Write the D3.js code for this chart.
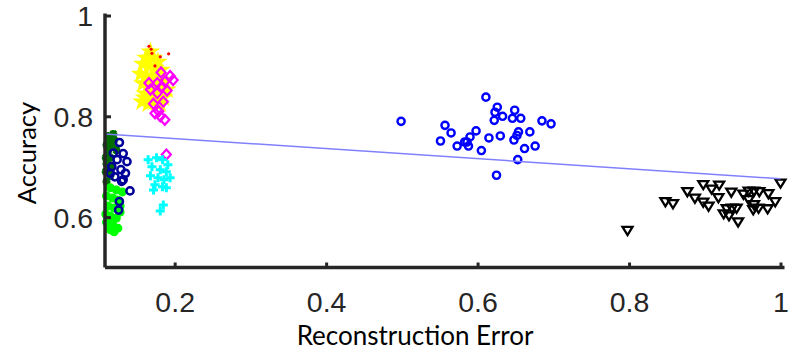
<!DOCTYPE html>
<html><head><meta charset="utf-8">
<script src="https://cdnjs.cloudflare.com/ajax/libs/d3/7.8.5/d3.min.js"></script>
<style>body{margin:0;background:#fff}</style>
</head><body>
<svg id="chart" width="807" height="354"></svg>
<script>
const xTicks = [0.2, 0.4, 0.6, 0.8, 1];
const yTicks = [0.6, 0.8, 1];
const xDomain = [0.108, 1.0];
const yDomain = [0.5, 1.0];
const xTitle = "Reconstruction Error";
const yTitle = "Accuracy";

const darkGreen = [[0.112,0.761],[0.119,0.765],[0.115,0.753],[0.110,0.743],[0.117,0.741],[0.112,0.730],[0.109,0.718],[0.115,0.718],[0.110,0.706],[0.117,0.702],[0.109,0.690],[0.115,0.682],[0.110,0.670],[0.120,0.753],[0.123,0.733],[0.113,0.694],[0.111,0.712]];
const lime = [[0.115,0.658],[0.123,0.654],[0.131,0.650],[0.110,0.642],[0.118,0.638],[0.125,0.634],[0.112,0.622],[0.120,0.618],[0.128,0.622],[0.109,0.606],[0.115,0.602],[0.123,0.598],[0.110,0.590],[0.118,0.586],[0.125,0.578],[0.115,0.575],[0.120,0.571],[0.128,0.610]];
const navy = [[0.127,0.748],[0.119,0.727],[0.132,0.726],[0.124,0.714],[0.137,0.710],[0.117,0.700],[0.129,0.694],[0.135,0.687],[0.121,0.680],[0.130,0.671],[0.141,0.652],[0.127,0.631],[0.126,0.614],[0.132,0.674],[0.115,0.687]];
const yellow = [[0.168,0.928],[0.162,0.916],[0.172,0.916],[0.178,0.908],[0.158,0.904],[0.166,0.900],[0.174,0.896],[0.182,0.892],[0.155,0.884],[0.162,0.880],[0.170,0.880],[0.178,0.876],[0.186,0.872],[0.158,0.865],[0.166,0.861],[0.174,0.861],[0.182,0.857],[0.190,0.853],[0.161,0.845],[0.169,0.841],[0.177,0.841],[0.185,0.837],[0.157,0.829],[0.165,0.825],[0.173,0.829],[0.181,0.825],[0.160,0.837]];
const red = [[0.166,0.939],[0.169,0.933],[0.170,0.925],[0.192,0.924],[0.181,0.918],[0.183,0.872],[0.174,0.900]];
const magenta = [[0.182,0.887],[0.194,0.880],[0.198,0.872],[0.187,0.869],[0.177,0.866],[0.166,0.866],[0.183,0.859],[0.190,0.851],[0.168,0.853],[0.177,0.846],[0.185,0.829],[0.172,0.825],[0.179,0.810],[0.187,0.793],[0.181,0.800],[0.174,0.806],[0.189,0.724]];
const cyan = [[0.165,0.714],[0.176,0.718],[0.184,0.714],[0.191,0.704],[0.170,0.700],[0.181,0.694],[0.189,0.690],[0.168,0.682],[0.178,0.678],[0.186,0.674],[0.194,0.678],[0.174,0.664],[0.184,0.660],[0.172,0.654],[0.189,0.658],[0.185,0.624],[0.181,0.612]];
const blue = [[0.611,0.838],[0.626,0.818],[0.623,0.808],[0.649,0.812],[0.633,0.800],[0.646,0.796],[0.657,0.796],[0.622,0.792],[0.499,0.790],[0.685,0.791],[0.697,0.785],[0.557,0.782],[0.565,0.767],[0.598,0.771],[0.669,0.769],[0.654,0.769],[0.590,0.759],[0.630,0.761],[0.615,0.757],[0.652,0.762],[0.648,0.753],[0.551,0.751],[0.583,0.749],[0.573,0.741],[0.588,0.741],[0.662,0.736],[0.676,0.741],[0.605,0.732],[0.653,0.714],[0.625,0.683],[0.586,0.749]];
const black = [[0.898,0.664],[0.909,0.655],[0.919,0.663],[0.877,0.650],[0.887,0.637],[0.898,0.629],[0.905,0.621],[0.918,0.638],[0.935,0.649],[0.951,0.645],[0.958,0.651],[0.965,0.651],[0.972,0.650],[0.984,0.646],[0.958,0.634],[0.993,0.630],[1.000,0.667],[0.848,0.630],[0.858,0.626],[0.929,0.616],[0.936,0.617],[0.942,0.617],[0.925,0.606],[0.932,0.602],[0.944,0.590],[0.964,0.614],[0.971,0.617],[0.983,0.616],[0.798,0.573],[0.965,0.624]];
const fitLine = [[0.108,0.765],[1.0,0.676]];

const svg = d3.select("#chart");
const x = d3.scaleLinear().domain(xDomain).range([105, 780.5]);
const y = d3.scaleLinear().domain(yDomain).range([267.5, 15.5]);
const axisColor = "#262626";
const tickFont = "'Liberation Sans', Arial, sans-serif";
const titleFont = "Lato, 'Open Sans', sans-serif";

const g = svg.append("g");

function drawGroup(data, pathStr, style) {
  const sel = g.append("g").selectAll("path").data(data).join("path")
    .attr("d", pathStr)
    .attr("transform", d => `translate(${x(d[0])},${y(d[1])})`);
  for (const k in style) sel.attr(k, style[k]);
}
const circ = r => d3.symbol(d3.symbolCircle, Math.PI*r*r)();
const star = d3.symbol(d3.symbolStar, 120)();
const asterisk = "M-4,0H4M0,-4V4M-3,-3L3,3M-3,3L3,-3";
const plus = "M-4.5,0H4.5M0,-4.5V4.5";
const diamond = "M0,-5L4.5,0L0,5L-4.5,0Z";
const triDown = "M-5,-3.8L5,-3.8L0,4.3Z";

drawGroup(darkGreen, asterisk, {stroke:"#006e00","stroke-width":2.5,fill:"none"});
drawGroup(lime, circ(4.5), {fill:"#00ff00"});
drawGroup(navy, circ(3.6), {stroke:"#000099","stroke-width":2.5,fill:"none"});
drawGroup(yellow, star, {fill:"#ffff00"});
drawGroup(red, circ(1.6), {fill:"#ff0000"});
drawGroup(magenta, diamond, {stroke:"#ff00ff","stroke-width":2.2,fill:"none"});
drawGroup(cyan, plus, {stroke:"#00ffff","stroke-width":3,fill:"none"});
drawGroup(blue, circ(3.6), {stroke:"#0000ff","stroke-width":2.4,fill:"none"});
drawGroup(black, triDown, {stroke:"#000","stroke-width":2.3,fill:"none","stroke-linejoin":"miter"});

g.append("path")
  .attr("d", d3.line().x(d => x(d[0])).y(d => y(d[1]))(fitLine))
  .attr("stroke", "#8080ff").attr("stroke-width", 1.5).attr("fill", "none");

// axes
const xAxis = d3.axisBottom(x).tickValues(xTicks).tickSize(-5).tickPadding(24)
  .tickFormat(d => d === 1 ? "1" : d3.format(".1f")(d));
const yAxis = d3.axisLeft(y).tickValues(yTicks).tickSize(-6).tickPadding(12)
  .tickFormat(d => d === 1 ? "1" : d3.format(".1f")(d));

const gx = svg.append("g").attr("transform", `translate(0,${y(0.5)})`).call(xAxis);
const gy = svg.append("g").attr("transform", `translate(${x(xDomain[0])},0)`).call(yAxis);
[gx, gy].forEach(a => {
  a.select(".domain").attr("stroke", axisColor).attr("stroke-width", 3.5);
  a.selectAll(".tick line").attr("stroke", axisColor).attr("stroke-width", 3);
  a.selectAll(".tick text").attr("fill", "#262626").style("font-family", tickFont).style("font-size", "28.5px");
});
gx.select(".domain").attr("d", `M${x(xDomain[0])},0H${x(1)+4}`);
gy.select(".domain").attr("d", `M0,${y(0.5)}V${y(1)-2}`);
gx.selectAll(".tick text").attr("dy", "0.71em");
gy.selectAll(".tick text").attr("dy", "0.36em");

svg.append("text").text(xTitle)
  .attr("x", 415).attr("y", 345).attr("text-anchor", "middle")
  .style("font-family", titleFont).style("font-size", "26px").attr("fill", "#000");
svg.append("text").text(yTitle)
  .attr("transform", "translate(36,153) rotate(-90)").attr("text-anchor", "middle")
  .style("font-family", titleFont).style("font-size", "25.5px").attr("fill", "#000");
</script>
</body></html>
